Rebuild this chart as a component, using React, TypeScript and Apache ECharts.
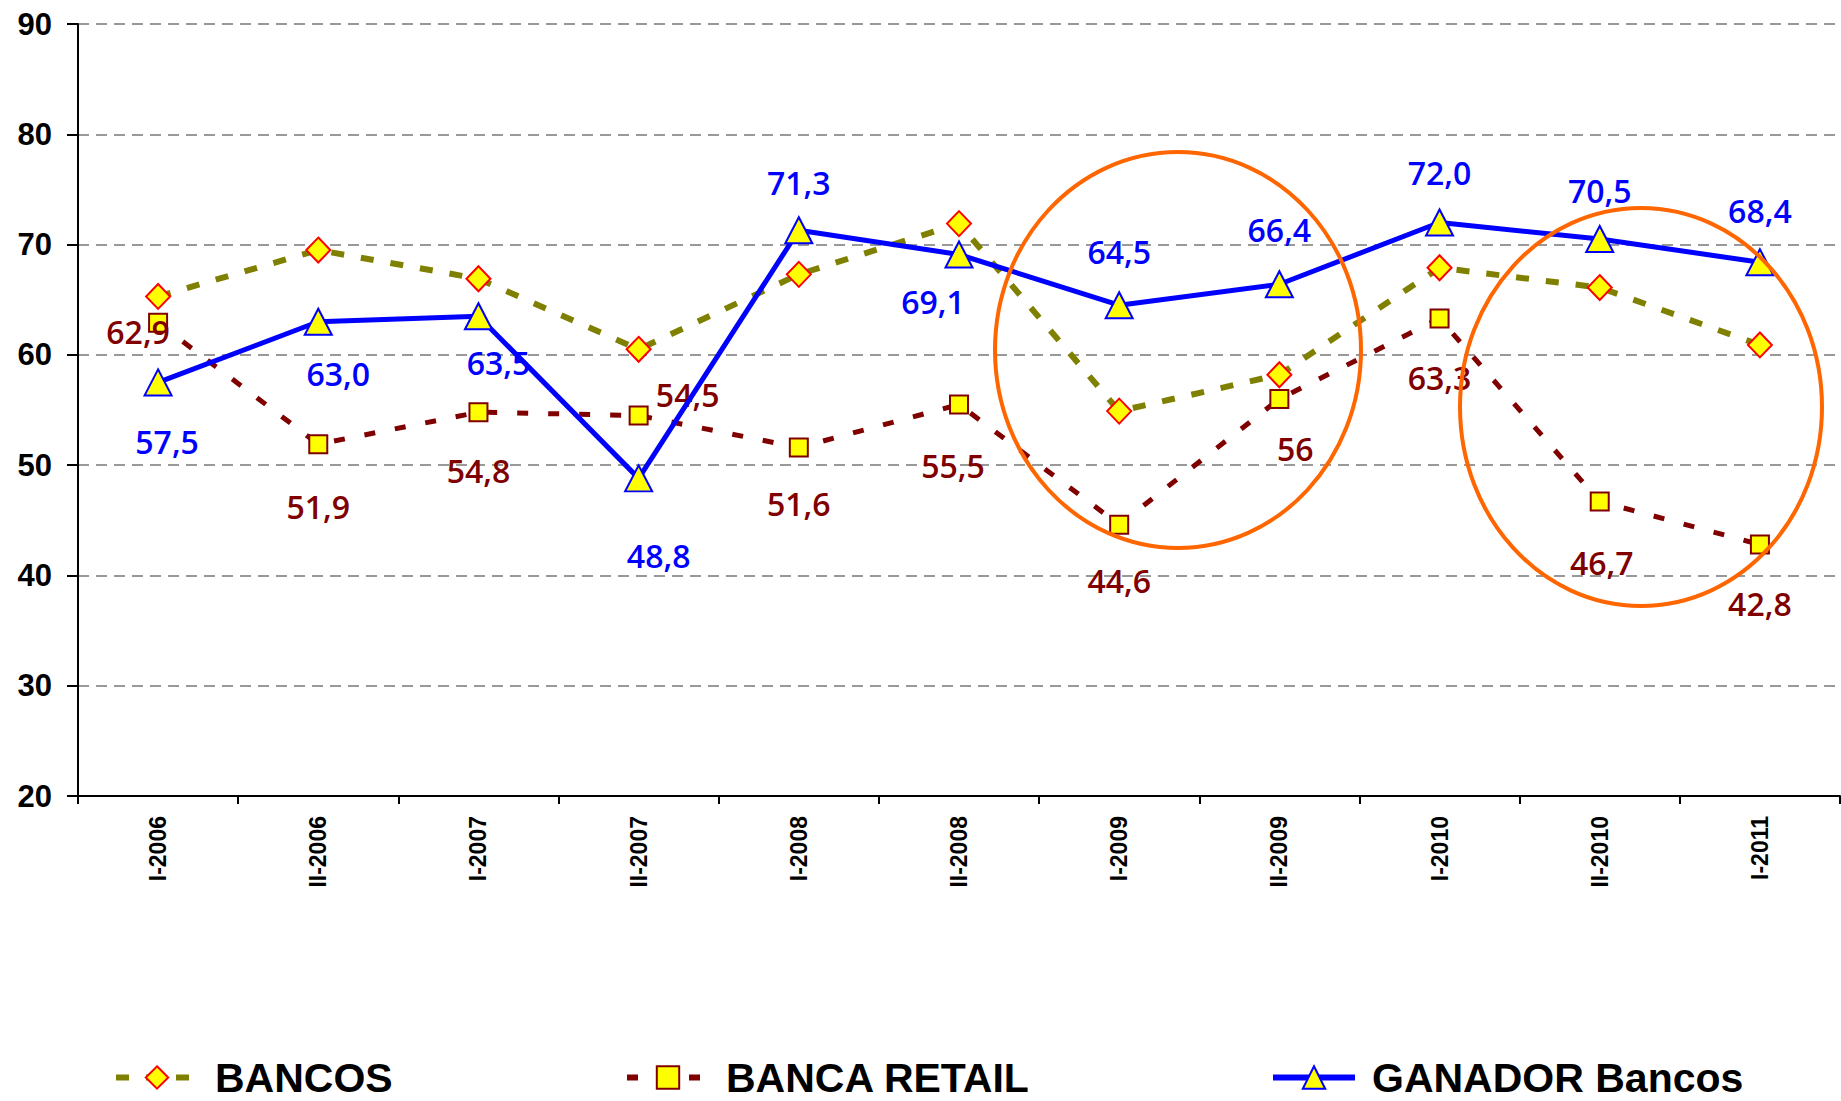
import React, { useEffect, useRef } from "react";
import * as echarts from "echarts";

const categories = ["I-2006", "II-2006", "I-2007", "II-2007", "I-2008", "II-2008", "I-2009", "II-2009", "I-2010", "II-2010", "I-2011"];
const bancos = [65.3, 69.5, 66.9, 60.5, 67.3, 71.9, 54.9, 58.2, 67.9, 66.1, 60.9];
const bancaRetail = [62.9, 51.9, 54.8, 54.5, 51.6, 55.5, 44.6, 56, 63.3, 46.7, 42.8];
const ganador = [57.5, 63.0, 63.5, 48.8, 71.3, 69.1, 64.5, 66.4, 72.0, 70.5, 68.4];
const retailLabels = ["62,9", "51,9", "54,8", "54,5", "51,6", "55,5", "44,6", "56", "63,3", "46,7", "42,8"];
const ganadorLabels = ["57,5", "63,0", "63,5", "48,8", "71,3", "69,1", "64,5", "66,4", "72,0", "70,5", "68,4"];
const yTicks = { min: 20, max: 90, interval: 10 };

// label placement offsets (pixels from the point)
const retailOffsets = [[-20, 9], [0, 62], [0, 58], [49, -21], [0, 56], [-6, 61], [0, 56], [16, 50], [0, 59], [2, 61], [0, 59]];
const ganadorOffsets = [[9, 59], [20, 52], [20, 46], [20, 77], [0, -48], [-26, 47], [0, -54], [0, -55], [0, -50], [0, -49], [0, -52]];

const LABEL_FONT = "'Open Sans', 'Noto Sans', sans-serif";
const AXIS_FONT = "'Liberation Sans', Arial, sans-serif";

export default function App() {
  const ref = useRef<HTMLDivElement>(null);
  useEffect(() => {
    if (!ref.current) return;
    const chart = echarts.init(ref.current, undefined, { renderer: "svg" });
    const mkData = (vals: number[], labels: string[], offs: number[][]) =>
      vals.map((v, i) => ({ value: v, label: { formatter: labels[i], offset: offs[i] } }));
    const legendBase = {
      top: 1052,
      itemWidth: 82,
      itemHeight: 28,
      lineStyle: { width: 6 },
      textStyle: { fontSize: 41, fontWeight: "bold", fontFamily: AXIS_FONT, color: "#000", padding: [0, 0, 0, 12], lineHeight: 41 },
    };
    chart.setOption({
      animation: false,
      backgroundColor: "#fff",
      grid: { left: 78, right: 1, top: 24, bottom: 305, containLabel: false },
      legend: [
        { ...legendBase, left: 108, data: ["BANCOS"] },
        { ...legendBase, left: 619, data: ["BANCA RETAIL"] },
        { ...legendBase, left: 1265, data: ["GANADOR Bancos"] },
      ],
      xAxis: {
        type: "category",
        data: categories,
        boundaryGap: true,
        axisLine: { lineStyle: { color: "#000", width: 2 } },
        axisTick: { show: true, length: 8, lineStyle: { color: "#000", width: 2 } },
        axisLabel: { rotate: 90, margin: 20, fontSize: 23, fontWeight: "bold", fontFamily: AXIS_FONT, color: "#000", interval: 0 },
        splitLine: { show: false },
      },
      yAxis: {
        type: "value",
        min: yTicks.min,
        max: yTicks.max,
        interval: yTicks.interval,
        axisLine: { show: true, lineStyle: { color: "#000", width: 2 } },
        axisTick: { show: true, length: 11, lineStyle: { color: "#000", width: 2 } },
        axisLabel: { margin: 26, fontSize: 31, fontWeight: "bold", fontFamily: AXIS_FONT, color: "#000" },
        splitLine: { show: true, lineStyle: { color: "#999", width: 2, type: [11, 7] } },
      },
      series: [
        {
          name: "BANCOS",
          type: "line",
          data: bancos,
          symbol: "diamond",
          symbolSize: [24, 25],
          lineStyle: { color: "#808000", width: 6, type: [13, 17] },
          itemStyle: { color: "#FFFF00", borderColor: "#FF0000", borderWidth: 2 },
          label: { show: false },
          z: 2,
        },
        {
          name: "BANCA RETAIL",
          type: "line",
          data: mkData(bancaRetail, retailLabels, retailOffsets),
          symbol: "rect",
          symbolSize: 18,
          lineStyle: { color: "#800000", width: 5, type: [11, 20] },
          itemStyle: { color: "#FFFF00", borderColor: "#800000", borderWidth: 2 },
          label: { show: true, position: "inside", fontSize: 32, fontWeight: 600, fontFamily: LABEL_FONT, color: "#800000" },
          z: 3,
        },
        {
          name: "GANADOR Bancos",
          type: "line",
          data: mkData(ganador, ganadorLabels, ganadorOffsets),
          symbol: "triangle",
          symbolSize: [27, 26],
          lineStyle: { color: "#0000FF", width: 5, type: "solid" },
          itemStyle: { color: "#FFFF00", borderColor: "#0000FF", borderWidth: 2 },
          label: { show: true, position: "inside", fontSize: 32, fontWeight: 600, fontFamily: LABEL_FONT, color: "#0000FF" },
          z: 4,
        },
      ],
      graphic: [
        { type: "ellipse", shape: { cx: 1178, cy: 350, rx: 183, ry: 198 }, style: { fill: "none", stroke: "#FF6600", lineWidth: 4 }, z: 10 },
        { type: "ellipse", shape: { cx: 1641, cy: 407, rx: 181, ry: 199 }, style: { fill: "none", stroke: "#FF6600", lineWidth: 4 }, z: 10 },
      ],
    });
    return () => chart.dispose();
  }, []);
  return <div ref={ref} style={{ position: "fixed", left: 0, top: 0, width: 1841, height: 1101 }} />;
}
